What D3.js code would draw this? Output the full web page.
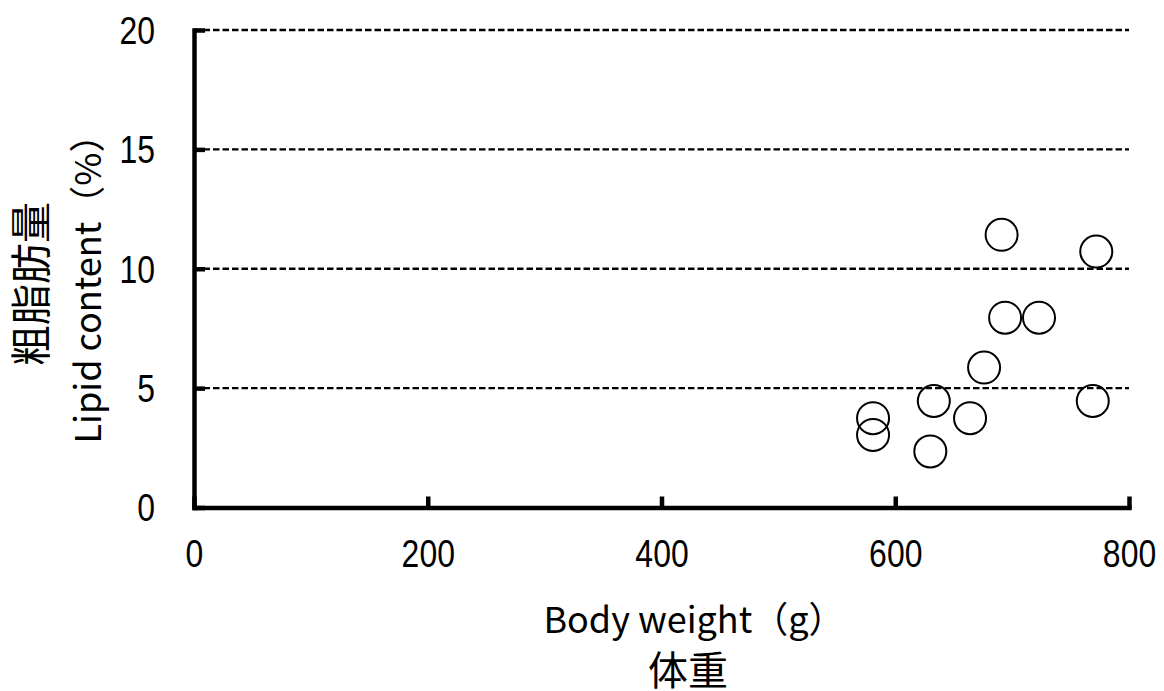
<!DOCTYPE html>
<html>
<head>
<meta charset="utf-8">
<script src="https://cdn.jsdelivr.net/npm/d3@7"></script>
<style>
  html, body { margin: 0; padding: 0; background: #fff; }
  svg { display: block; }
  .tick text { font-family: "Liberation Sans", Arial, sans-serif; fill: #000; }
  .title { font-family: "Noto Sans CJK JP", sans-serif; fill: #000; }
</style>
</head>
<body>
<svg id="chart" width="1164" height="691"></svg>
<script>
// data
const bodyWeight = [691, 772, 694, 723, 676, 633, 769, 581, 664, 581, 630];
const lipidContent = [11.42, 10.72, 7.95, 7.95, 5.86, 4.46, 4.46, 3.74, 3.74, 3.04, 2.35];
const xTicks = [0, 200, 400, 600, 800];
const yTicks = [0, 5, 10, 15, 20];
const gridTicks = [5, 10, 15, 20];

const points = bodyWeight.map((w, i) => ({ w, lipid: lipidContent[i] }));

const svg = d3.select("#chart");
const width = 1164, height = 691;
const margin = { top: 30, right: 35, bottom: 183.5, left: 194 };
const innerWidth = width - margin.left - margin.right;
const innerHeight = height - margin.top - margin.bottom;

const x = d3.scaleLinear().domain([0, 800]).range([0, innerWidth]);
const y = d3.scaleLinear().domain([0, 20]).range([innerHeight, 0]);

const g = svg.append("g").attr("transform", `translate(${margin.left},${margin.top})`);

// dashed gridlines
g.append("g")
  .selectAll("line")
  .data(gridTicks)
  .join("line")
  .attr("x1", x(0)).attr("x2", x(800))
  .attr("y1", d => y(d)).attr("y2", d => y(d))
  .attr("stroke", "#000")
  .attr("stroke-width", 2.4)
  .attr("stroke-dasharray", "6.5,3");

// axes, ticks point inward
const yAxisG = g.append("g")
  .call(d3.axisLeft(y).tickValues(yTicks).tickSizeInner(-11).tickSizeOuter(0).tickPadding(39));

const xAxisG = g.append("g")
  .attr("transform", `translate(0,${innerHeight})`)
  .call(d3.axisBottom(x).tickValues(xTicks).tickSizeInner(-11).tickSizeOuter(0).tickPadding(33));

[xAxisG, yAxisG].forEach(a => {
  a.select(".domain").attr("stroke-width", 4.5).attr("stroke-linecap", "square");
  a.selectAll(".tick line").attr("stroke-width", 4.5);
  // the reference digits are narrower than Liberation Sans
  a.selectAll(".tick text")
    .style("font-size", "38px")
    .attr("lengthAdjust", "spacingAndGlyphs")
    .attr("textLength", function() { return this.getComputedTextLength() * 0.84; });
});
yAxisG.selectAll(".tick text").attr("dy", "0.35em");

// points
g.append("g")
  .selectAll("circle")
  .data(points)
  .join("circle")
  .attr("cx", d => x(d.w))
  .attr("cy", d => y(d.lipid))
  .attr("r", 16)
  .attr("fill", "none")
  .attr("stroke", "#000")
  .attr("stroke-width", 2);

// titles
svg.append("text").attr("class", "title")
  .attr("x", 694).attr("y", 633)
  .attr("text-anchor", "middle").style("font-size", "36px")
  .text("Body weight（g）");

svg.append("text").attr("class", "title")
  .attr("x", 688).attr("y", 685)
  .attr("text-anchor", "middle").style("font-size", "40px")
  .text("体重");

svg.append("text").attr("class", "title")
  .attr("transform", "translate(101,280) rotate(-90)")
  .attr("text-anchor", "middle").style("font-size", "36px")
  .text("Lipid content（%）");

svg.append("text").attr("class", "title")
  .attr("transform", "translate(46,284) rotate(-90)")
  .attr("text-anchor", "middle").style("font-size", "41px")
  .text("粗脂肪量");
</script>
</body>
</html>
